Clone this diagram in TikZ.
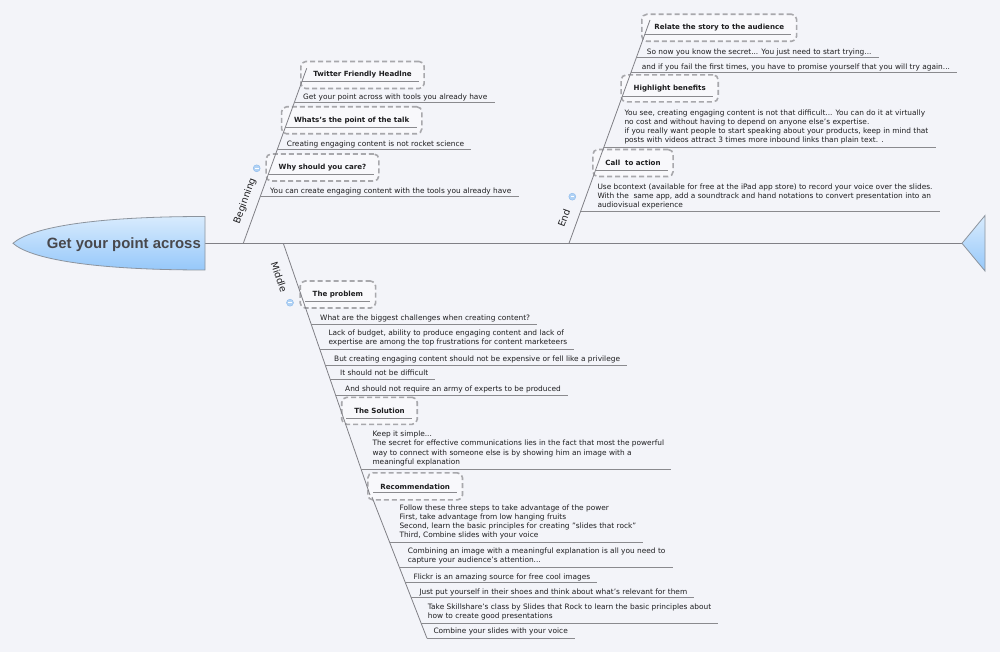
\documentclass[tikz,border=0pt]{standalone}
\usepackage{fontspec}
\setmainfont{DejaVu Sans}
\newfontfamily\headfont{Liberation Sans}
\usetikzlibrary{calc}
\definecolor{colBg}{RGB}{243,244,249}
\definecolor{colBoxFill}{RGB}{248,248,251}
\definecolor{colBoxLine}{RGB}{168,168,172}
\definecolor{colLine}{RGB}{128,128,134}
\definecolor{colULine}{RGB}{138,138,142}
\definecolor{colText}{RGB}{30,30,32}
\definecolor{colHeadTop}{RGB}{216,235,253}
\definecolor{colHeadBot}{RGB}{150,200,250}
\definecolor{colHeadLine}{RGB}{140,148,158}
\definecolor{colTitle}{RGB}{72,72,76}
\definecolor{colToggle}{RGB}{176,210,245}
\definecolor{colToggleB}{RGB}{140,185,235}
\newcommand{\leaffont}{\fontsize{7.4}{9.2}\selectfont}
\newcommand{\topicfont}{\fontsize{7.1}{9}\selectfont\bfseries}
\tikzset{
  leaf/.style={anchor=base west, inner sep=0pt, align=left, font=\leaffont, text=colText},
  topic/.style={
    rectangle, rounded corners=5pt,
    draw=colBoxLine, line width=1.6pt, dash pattern=on 5pt off 3pt,
    fill=colBoxFill, inner xsep=12.5pt, inner ysep=0pt,
    minimum height=27pt, font=\topicfont, text=colText
  },
  branch/.style={draw=colLine, line width=0.8pt},
  uline/.style={draw=colULine, line width=0.8pt},
  spine/.style={draw=colLine, line width=0.9pt},
  branchlabel/.style={font=\fontsize{9.5}{11}\selectfont, text=colText, inner sep=0pt},
  toggle/.style={circle, inner sep=0pt, minimum size=7pt, fill=colToggle, draw=colToggleB, line width=0.4pt},
  fishend/.style={draw=colHeadLine, line width=0.8pt, top color=colHeadTop, bottom color=colHeadBot}
}

\begin{document}
\begin{tikzpicture}[x=1pt, y=-1pt]

  \useasboundingbox (0,0) rectangle (1000,652);
  \fill[colBg] (0,0) rectangle (1000,652);

  % spine
  \coordinate (headR) at (205,243.3);
  \coordinate (tailTip) at (962,243.3);
  \draw[spine] (headR) -- (tailTip);

  % topic boxes
  \node[topic] (twitter) at (362.5,75) {Twitter Friendly Headlne};
  \node[topic] (whats) at (351.7,120.3) {Whats's the point of the talk};
  \node[topic] (why) at (322.5,167.5) {Why should you care?};
  \node[topic] (relate) at (719.2,27.8) {Relate the story to the audience};
  \node[topic] (benefits) at (669.7,88.4) {Highlight benefits};
  \node[topic] (call) at (633,163) {Call\ \ to action};
  \node[topic] (problem) at (337.9,294.5) {The problem};
  \node[topic] (solution) at (379.5,410.8) {The Solution};
  \node[topic] (recommend) at (415.2,486.4) {Recommendation};

  % branches
  \coordinate (begFoot) at (243.3,243.3);
  \coordinate (begTop) at (306.7,68.3);
  \coordinate (endFoot) at (569,243.3);
  \coordinate (endTop) at (650,20);
  \coordinate (midFoot) at (283.3,243.3);
  \coordinate (midEnd) at (370,495);
  \coordinate (recTop) at (372,497);
  \coordinate (recEnd) at (427,638.3);
  \draw[branch] (begFoot) -- (begTop);
  \draw[branch] (endFoot) -- (endTop);
  \draw[branch] (midFoot) -- (midEnd);
  \draw[branch] (recTop) -- (recEnd);

  % underlines inside the boxes
  \draw[uline] (302,81.5) coordinate (twitterU) -- ($(twitterU -| twitter.east)+(-6,0)$);
  \draw[uline] (285,127.5) coordinate (whatsU) -- ($(whatsU -| whats.east)+(-6,0)$);
  \draw[uline] (268.3,174.5) coordinate (whyU) -- ($(whyU -| why.east)+(-6,0)$);
  \draw[uline] (644.8,34.5) coordinate (relateU) -- ($(relateU -| relate.east)+(-6,0)$);
  \draw[uline] (622.2,96) coordinate (benefitsU) -- ($(benefitsU -| benefits.east)+(-6,0)$);
  \draw[uline] (595.4,170.5) coordinate (callU) -- ($(callU -| call.east)+(-6,0)$);
  \draw[uline] (305,301.7) coordinate (problemU) -- ($(problemU -| problem.east)+(-6,0)$);
  \draw[uline] (346,418.3) coordinate (solutionU) -- ($(solutionU -| solution.east)+(-6,0)$);
  \draw[uline] (373,492.7) coordinate (recommendU) -- ($(recommendU -| recommend.east)+(-6,0)$);

  % Beginning leaves
  \node[leaf] (beg1) at (303,100) {Get your point across with tools you already have};
  \draw[uline] (294.2,102.7) coordinate (beg1U) -- ($(beg1U -| beg1.east)+(7,0)$);
  \node[leaf] (beg2) at (286.7,146.3) {Creating engaging content is not rocket science};
  \draw[uline] (277.4,149.3) coordinate (beg2U) -- ($(beg2U -| beg2.east)+(7,0)$);
  \node[leaf] (beg3) at (270,193.4) {You can create engaging content with the tools you already have};
  \draw[uline] (260.2,196.7) coordinate (beg3U) -- ($(beg3U -| beg3.east)+(7,0)$);

  % End leaves (base = last line)
  \node[leaf] (end1) at (646.7,54.4) {So now you know the secret... You just need to start trying...};
  \draw[uline] (636.3,57.7) coordinate (end1U) -- ($(end1U -| end1.east)+(7,0)$);
  \node[leaf] (end2) at (641.7,69.4) {and if you fail the first times, you have to promise yourself that you will try again...};
  \draw[uline] (630.9,72.7) coordinate (end2U) -- ($(end2U -| end2.east)+(7,0)$);
  \node[leaf] (end3) at (624.3,143) {You see, creating engaging content is not that difficult... You can do it at virtually\\no cost and without having to depend on anyone else's expertise.\\if you really want people to start speaking about your products, keep in mind that\\posts with videos attract 3 times more inbound links than plain text. .};
  \draw[uline] (603.8,147.3) coordinate (end3U) -- ($(end3U -| end3.east)+(7,0)$);
  \node[leaf] (end4) at (597.3,207.8) {Use bcontext (available for free at the iPad app store) to record your voice over the slides.\\With the\ \ same app, add a soundtrack and hand notations to convert presentation into an\\audiovisual experience};
  \draw[uline] (580.5,211.7) coordinate (end4U) -- ($(end4U -| end4.east)+(7,0)$);

  % Middle leaves
  \node[leaf] (mid1) at (320,320.8) {What are the biggest challenges when creating content?};
  \draw[uline] (311.2,324.3) coordinate (mid1U) -- ($(mid1U -| mid1.east)+(7,0)$);
  \node[leaf] (mid2) at (328.3,344.2) {Lack of budget, ability to produce engaging content and lack of\\expertise are among the top frustrations for content marketeers};
  \draw[uline] (319.9,349.3) coordinate (mid2U) -- ($(mid2U -| mid2.east)+(7,0)$);
  \node[leaf] (mid3) at (334,361.7) {But creating engaging content should not be expensive or fell like a privilege};
  \draw[uline] (325.3,365) coordinate (mid3U) -- ($(mid3U -| mid3.east)+(7,0)$);
  \node[leaf] (mid4) at (340,375.7) {It should not be difficult};
  \draw[uline] (330.1,379) coordinate (mid4U) -- ($(mid4U -| mid4.east)+(7,0)$);
  \node[leaf] (mid5) at (345,391.7) {And should not require an army of experts to be produced};
  \draw[uline] (335.6,395) coordinate (mid5U) -- ($(mid5U -| mid5.east)+(7,0)$);
  \node[leaf] (mid6) at (372.3,464.3) {Keep it simple...\\The secret for effective communications lies in the fact that most the powerful\\way to connect with someone else is by showing him an image with a\\meaningful explanation};
  \draw[uline] (361.3,469.3) coordinate (mid6U) -- ($(mid6U -| mid6.east)+(7,0)$);

  % Recommendation leaves
  \node[leaf] (rec1) at (399.3,537.6) {Follow these three steps to take advantage of the power\\First, take advantage from low hanging fruits\\Second, learn the basic principles for creating "slides that rock"\\Third, Combine slides with your voice};
  \draw[uline] (389.8,542.7) coordinate (rec1U) -- ($(rec1U -| rec1.east)+(7,0)$);
  \node[leaf] (rec2) at (407.7,562.9) {Combining an image with a meaningful explanation is all you need to\\capture your audience's attention...};
  \draw[uline] (399.3,567.3) coordinate (rec2U) -- ($(rec2U -| rec2.east)+(7,0)$);
  \node[leaf] (rec3) at (413.3,579.4) {Flickr is an amazing source for free cool images};
  \draw[uline] (405.4,582.7) coordinate (rec3U) -- ($(rec3U -| rec3.east)+(7,0)$);
  \node[leaf] (rec4) at (419.3,594.4) {Just put yourself in their shoes and think about what's relevant for them};
  \draw[uline] (411.2,597.7) coordinate (rec4U) -- ($(rec4U -| rec4.east)+(7,0)$);
  \node[leaf] (rec5) at (427.7,618.6) {Take Skillshare's class by Slides that Rock to learn the basic principles about\\how to create good presentations};
  \draw[uline] (421.4,623.3) coordinate (rec5U) -- ($(rec5U -| rec5.east)+(7,0)$);
  \node[leaf] (rec6) at (433.3,633.4) {Combine your slides with your voice};
  \draw[uline] (427,638.3) coordinate (rec6U) -- ($(rec6U -| rec6.east)+(7,0)$);

  % branch labels and toggles
  \node[branchlabel, rotate=70] (begLabel) at (245,201) {Beginning};
  \node[branchlabel, rotate=70] (endLabel) at (564,218) {End};
  \node[branchlabel, rotate=-71] (midLabel) at (279,277) {Middle};
  \node[toggle] (begToggle) at (256.7,168.3) {\color{white}\rule{3.6pt}{0.8pt}};
  \node[toggle] (endToggle) at (572.3,196.7) {\color{white}\rule{3.6pt}{0.8pt}};
  \node[toggle] (midToggle) at (290,302.7) {\color{white}\rule{3.6pt}{0.8pt}};

  % head and tail
  \path[fishend] (13,243.3) .. controls (30,228) and (90,216.5) .. (205,216.5)
    -- (205,270) .. controls (90,270) and (30,258.6) .. (13,243.3) -- cycle;
  \node[font=\headfont\bfseries\fontsize{14.9}{16}\selectfont, text=colTitle, anchor=base, inner sep=0pt] (title) at (123.8,248.6) {Get your point across};
  \path[fishend] (tailTip) -- (985,215.5) -- (985,271) -- cycle;

\end{tikzpicture}
\end{document}
